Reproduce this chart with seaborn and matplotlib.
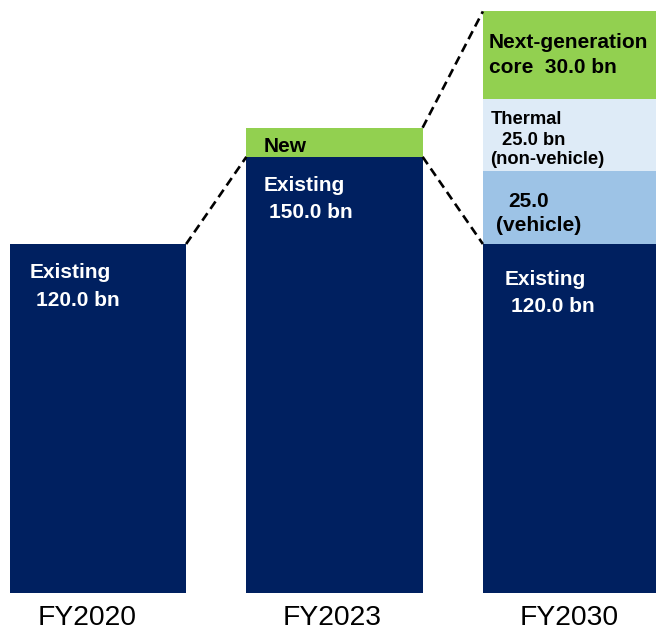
import matplotlib
matplotlib.use("Agg")
import matplotlib.pyplot as plt
import seaborn as sns
import numpy as np

# Revenue composition by fiscal year (bn)
years = ["FY2020", "FY2023", "FY2030"]
existing = [120.0, 150.0, 120.0]
vehicle = [0.0, 0.0, 25.0]
thermal = [0.0, 0.0, 25.0]
next_core = [0.0, 0.0, 30.0]
new_biz = [0.0, 10.0, 0.0]

NAVY = "#002060"
GREEN = "#92D050"
PALE = "#DEEBF7"
SKY = "#9DC3E6"

sns.set_style("white")
plt.rcParams["font.family"] = ["Liberation Sans", "DejaVu Sans"]

fig = plt.figure(figsize=(6.56, 6.35), dpi=100)
ax = fig.add_axes([0, 42 / 635, 1, 593 / 635])

W = 0.745
layers = [
    (existing, NAVY),
    (vehicle, SKY),
    (thermal, PALE),
    (next_core, GREEN),
    (new_biz, GREEN),
]
stack = np.cumsum([np.array(v) for v, _ in layers], axis=0)

# draw the cumulative stacks from the top layer down so each segment shows
for (vals, col), cum in reversed(list(zip(layers, stack))):
    sns.barplot(x=years, y=cum, color=col, saturation=1, width=W,
                errorbar=None, ax=ax, linewidth=0)

ax.set_xlim(-98 / 236.5, (656 - 98) / 236.5)
ax.set_ylim(0, 593 / 2.908)
for s in ax.spines.values():
    s.set_visible(False)
ax.set_yticks([])
ax.set_ylabel("")
ax.set_xlabel("")
# year labels, the first one nudged slightly left
ax.set_xticks([-0.045, 0.992, 1.992], years)
ax.tick_params(axis="x", length=0, pad=8.5, labelsize=20.3, labelcolor="black")

# connectors between bars
dash = dict(color="black", lw=1.9, linestyle=(0, (3.4, 2.0)), clip_on=False)
top23 = existing[1] + new_biz[1]
top30 = existing[2] + vehicle[2] + thermal[2] + next_core[2]
ax.plot([0 + W / 2, 1 - W / 2], [existing[0], existing[1]], **dash)
ax.plot([1 + W / 2, 2 - W / 2], [top23, top30], **dash)
ax.plot([1 + W / 2, 2 - W / 2], [existing[1], existing[2]], **dash)


def label(i, top, dx, dy, s, color, size):
    # dx, dy in pixels from the segment's top-left corner
    ax.annotate(s, xy=(i - W / 2, top), xytext=(dx * 0.72, -dy * 0.72),
                textcoords="offset points", ha="left", va="baseline",
                color=color, fontsize=size, fontweight="bold")


BIG = 15
label(0, existing[0], 20, 34, "Existing", "white", BIG)
label(0, existing[0], 26, 62, "%.1f bn" % existing[0], "white", BIG)

label(1, top23, 17, 24, "New", "black", BIG)
label(1, existing[1], 17, 34, "Existing", "white", BIG)
label(1, existing[1], 23, 61, "%.1f bn" % existing[1], "white", BIG)

label(2, existing[2], 22, 41, "Existing", "white", BIG)
label(2, existing[2], 28, 68, "%.1f bn" % existing[2], "white", BIG)

v_top = existing[2] + vehicle[2]
label(2, v_top, 25, 36, "%.1f" % vehicle[2], "black", BIG)
label(2, v_top, 13, 60, "(vehicle)", "black", BIG)

t_top = v_top + thermal[2]
label(2, t_top, 8, 25, "Thermal", "black", 13.2)
label(2, t_top, 19, 46, "%.1f bn" % thermal[2], "black", 13.2)
label(2, t_top, 7, 65, "(non-vehicle)", "black", 13.2)

label(2, top30, 6, 37, "Next-generation", "black", BIG)
label(2, top30, 6, 62, "core  %.1f bn" % next_core[2], "black", BIG)

fig.savefig("out.png", dpi=100)
